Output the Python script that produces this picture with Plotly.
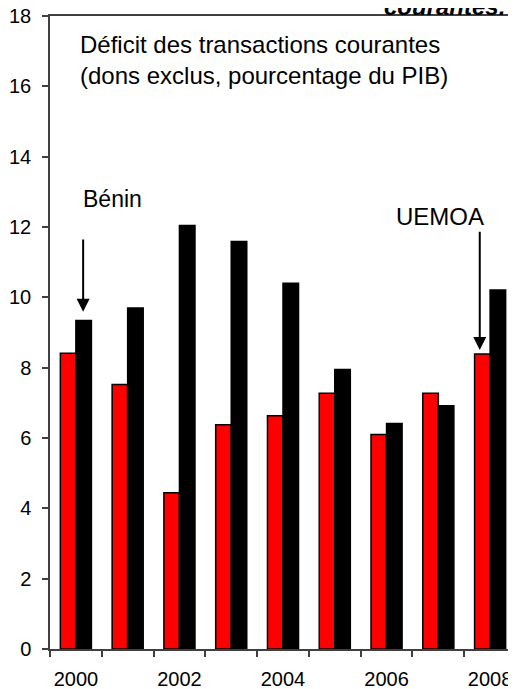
import plotly.graph_objects as go

years = [2000, 2001, 2002, 2003, 2004, 2005, 2006, 2007, 2008]
benin = [8.41, 7.52, 4.44, 6.38, 6.63, 7.27, 6.10, 7.27, 8.39]
uemoa = [9.34, 9.70, 12.04, 11.59, 10.40, 7.95, 6.41, 6.92, 10.21]
year_labels = [2000, 2002, 2004, 2006, 2008]
y_ticks = list(range(0, 19, 2))

fnt = "Liberation Sans, Arial, sans-serif"

fig = go.Figure()
fig.add_trace(go.Bar(x=years, y=benin, name="Bénin",
                     marker=dict(color="#ff0000", line=dict(color="black", width=1.5))))
fig.add_trace(go.Bar(x=years, y=uemoa, name="UEMOA",
                     marker=dict(color="black", line=dict(color="black", width=1.5))))

# text and arrows
fig.add_annotation(text="Déficit des transactions courantes<br>(dons exclus, pourcentage du PIB)",
                   xref="paper", yref="paper", x=0.060, y=0.930, xanchor="left", yanchor="middle",
                   align="left", showarrow=False, font=dict(size=24, color="black"))
fig.add_annotation(text="Bénin", x=2000.70, y=12.8, showarrow=False, font=dict(size=23, color="black"))
fig.add_annotation(text="", x=2000.14, y=9.59, ax=2000.14, ay=11.69, axref="x", ayref="y",
                   showarrow=True, arrowhead=2, arrowsize=1.3, arrowwidth=2, arrowcolor="black")
fig.add_annotation(text="UEMOA", x=2007.03, y=12.31, showarrow=False, font=dict(size=24, color="black"))
fig.add_annotation(text="", x=2007.80, y=8.50, ax=2007.80, ay=11.91, axref="x", ayref="y",
                   showarrow=True, arrowhead=2, arrowsize=1.3, arrowwidth=2, arrowcolor="black")
fig.add_annotation(text="<b><i>courantes.</i></b>", xref="paper", yref="paper",
                   x=0.98, y=0.990, xanchor="right", yanchor="bottom", showarrow=False,
                   font=dict(size=24, color="black"))

# page body adds an 8px offset, so the figure is sized to land the plot area where the reference has it
fig.update_layout(
    width=508, height=681,
    margin=dict(l=42, r=0, t=8, b=40, autoexpand=False),
    paper_bgcolor="white", plot_bgcolor="white",
    font=dict(family=fnt, color="black"),
    barmode="group", bargap=0.40, bargroupgap=0,
    showlegend=False,
)
fig.update_xaxes(range=[1999.5, 2008.5], tickvals=year_labels, ticks="",
                 ticklabelstandoff=11, tickfont=dict(size=20), automargin=False,
                 ticklabeloverflow="allow",
                 minor=dict(tickmode="array", tickvals=[y - 0.5 for y in years] + [2008.5],
                            ticks="outside", ticklen=6, tickcolor="#404040", tickwidth=1.5),
                 showline=True, linecolor="#404040", linewidth=1.5, mirror=True,
                 showgrid=False, zeroline=False)
fig.update_yaxes(range=[0, 18], tickvals=y_ticks, ticks="outside", ticklen=6,
                 tickcolor="#404040", tickwidth=1.5, ticklabelstandoff=7, automargin=False,
                 ticklabeloverflow="allow",
                 tickfont=dict(size=20), showline=True, linecolor="#404040", linewidth=1.5,
                 mirror=True, showgrid=False, zeroline=False)

fig.write_html("out.html")
